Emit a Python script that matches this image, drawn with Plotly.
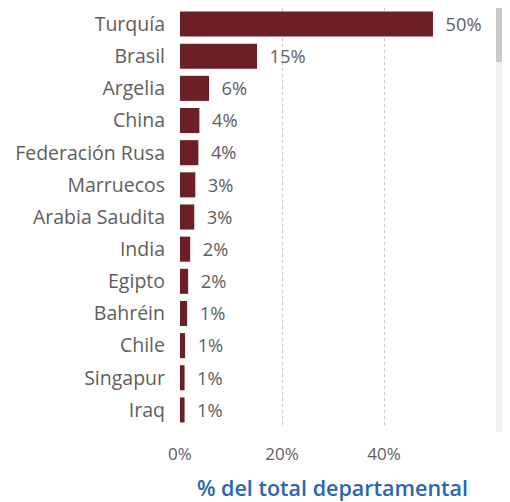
import plotly.graph_objects as go

# países ordenados de mayor a menor participación
paises = [
    "Turquía", "Brasil", "Argelia", "China", "Federación Rusa", "Marruecos",
    "Arabia Saudita", "India", "Egipto", "Bahréin", "Chile", "Singapur", "Iraq",
]
pct_total = [49.6, 15.1, 5.7, 3.8, 3.6, 3.0, 2.8, 2.0, 1.6, 1.4, 1.0, 0.9, 0.9]

tick_vals = [0, 20, 40]
tick_text = ["0%", "20%", "40%"]

BAR_COLOR = "#6B1F27"
LABEL_COLOR = "#605E5C"
FONT = "Open Sans"

fig = go.Figure(
    go.Bar(
        x=pct_total,
        y=paises,
        orientation="h",
        marker=dict(color=BAR_COLOR, line=dict(width=0)),
        texttemplate="  %{x:.0f}%",
        textposition="outside",
        cliponaxis=False,
        textfont=dict(color=LABEL_COLOR, size=19, family=FONT),
        hoverinfo="skip",
    )
)

# barra de desplazamiento a la derecha
fig.add_shape(type="rect", xref="paper", yref="paper",
              x0=1.036, x1=1.09, y0=-0.014, y1=1.0,
              fillcolor="#F1F1F1", line=dict(width=0))
fig.add_shape(type="rect", xref="paper", yref="paper",
              x0=1.036, x1=1.09, y0=0.871, y1=1.0,
              fillcolor="#C9C9C9", line=dict(width=0))

# la página añade 8 px de margen en el body: la figura se dibuja desplazada
fig.update_layout(
    width=502,
    height=494,
    template="plotly_white",
    plot_bgcolor="white",
    paper_bgcolor="white",
    margin=dict(l=172, r=25, t=0, b=76),
    bargap=0.22,
    showlegend=False,
    font=dict(family=FONT, color=LABEL_COLOR, size=19),
    xaxis=dict(
        range=[0, 59.8],
        tickvals=tick_vals,
        ticktext=tick_text,
        showgrid=True,
        gridcolor="#C8C8C8",
        griddash="dot",
        gridwidth=1,
        zeroline=False,
        showline=False,
        ticks="",
        automargin=False,
        ticklabelstandoff=16,
        tickfont=dict(size=17, color=LABEL_COLOR),
        title=dict(
            text="% del total departamental",
            font=dict(size=21.5, color="#2A67AC", family=FONT, weight=600),
            standoff=16,
        ),
    ),
    yaxis=dict(
        autorange="reversed",
        showgrid=False,
        zeroline=False,
        showline=False,
        ticks="",
        automargin=False,
        ticklabelstandoff=14,
        tickfont=dict(size=19.5, color=LABEL_COLOR),
    ),
)

fig.write_html("out.html")
